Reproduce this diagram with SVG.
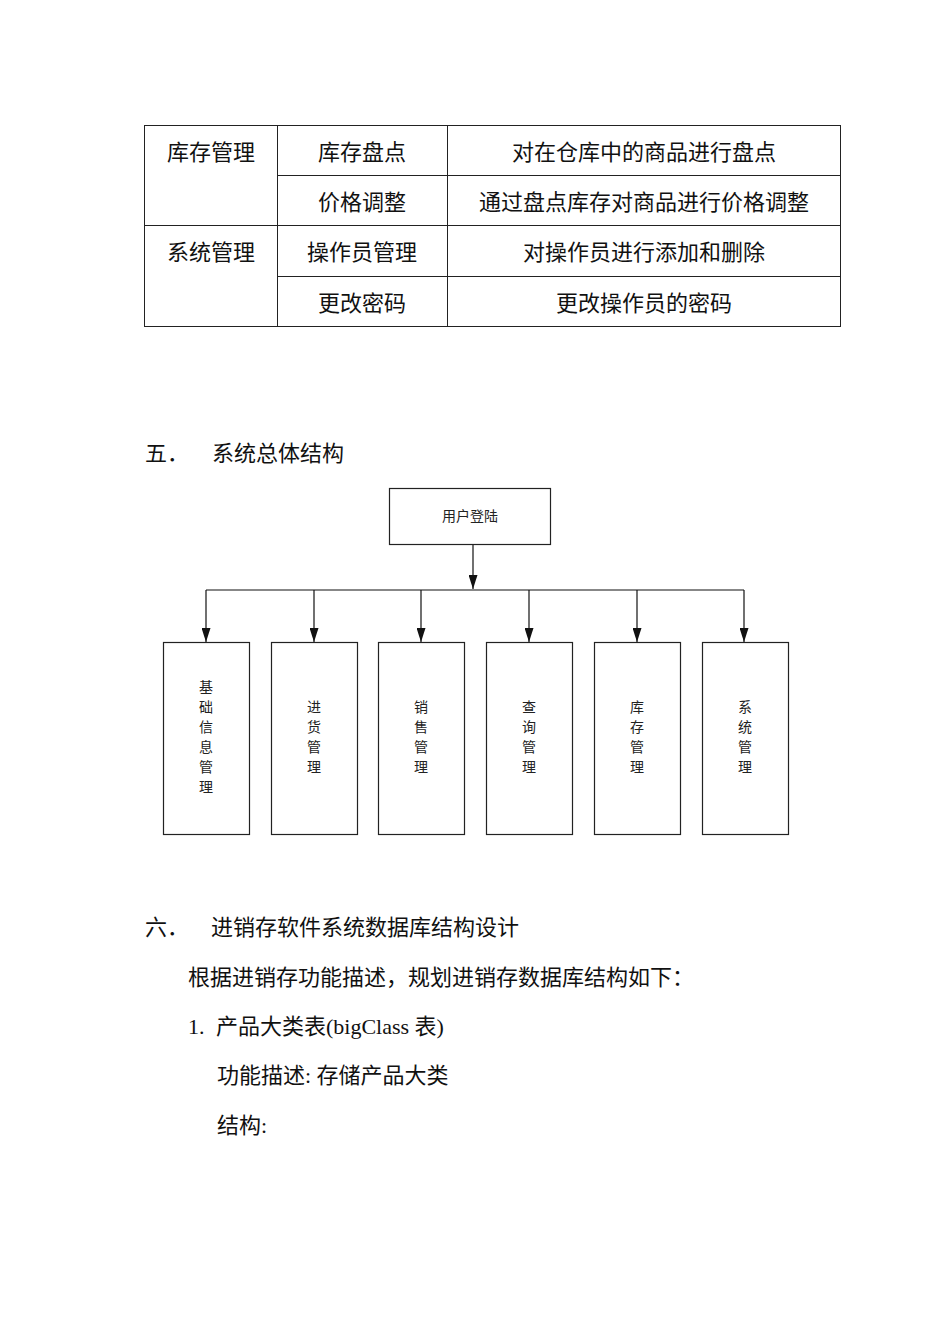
<svg xmlns="http://www.w3.org/2000/svg" width="950" height="1344" viewBox="0 0 950 1344">
<defs>
<style>
.t{font-family:"Liberation Serif","Noto Sans CJK SC",serif;font-size:22px;fill:#111}
.c{text-anchor:middle}
.g{stroke:#222;stroke-width:1;fill:none}
.b{fill:#fff;stroke:#222;stroke-width:1.2}
.s{font-family:"Noto Sans CJK SC",sans-serif;font-size:14px;fill:#222;text-anchor:middle}
.v{font-family:"Noto Sans CJK SC",sans-serif;font-size:14px;fill:#222;text-anchor:middle}
.ln{stroke:#111;stroke-width:1.2;fill:none}
</style>
<marker id="ah" markerWidth="14" markerHeight="9" refX="14" refY="4.5" orient="auto" markerUnits="userSpaceOnUse" viewBox="0 0 14 9">
<path d="M0,0 L14,4.5 L0,9 Z" fill="#111"/>
</marker>
</defs>
<rect width="950" height="1344" fill="#fff"/>

<g id="table">
<rect class="g" x="144.5" y="125.5" width="696" height="201"/>
<line class="g" x1="277.5" y1="125" x2="277.5" y2="326"/>
<line class="g" x1="447.5" y1="125" x2="447.5" y2="326"/>
<line class="g" x1="277" y1="175.5" x2="840" y2="175.5"/>
<line class="g" x1="144" y1="225.5" x2="840" y2="225.5"/>
<line class="g" x1="277" y1="276.5" x2="840" y2="276.5"/>
<text class="t c" x="211" y="160">库存管理</text>
<text class="t c" x="362" y="160">库存盘点</text>
<text class="t c" x="644" y="160">对在仓库中的商品进行盘点</text>
<text class="t c" x="362" y="210">价格调整</text>
<text class="t c" x="644" y="210">通过盘点库存对商品进行价格调整</text>
<text class="t c" x="211" y="260">系统管理</text>
<text class="t c" x="362" y="260">操作员管理</text>
<text class="t c" x="644" y="260">对操作员进行添加和删除</text>
<text class="t c" x="362" y="311">更改密码</text>
<text class="t c" x="644" y="311">更改操作员的密码</text>
</g>

<text class="t" x="145" y="461">五．</text>
<text class="t" x="212" y="461">系统总体结构</text>

<g id="connectors">
<line class="ln" x1="473" y1="544" x2="473" y2="589" marker-end="url(#ah)"/>
<line class="ln" x1="206" y1="590" x2="744" y2="590"/>
<line class="ln" x1="206" y1="590" x2="206" y2="642" marker-end="url(#ah)"/>
<line class="ln" x1="314" y1="590" x2="314" y2="642" marker-end="url(#ah)"/>
<line class="ln" x1="421" y1="590" x2="421" y2="642" marker-end="url(#ah)"/>
<line class="ln" x1="529" y1="590" x2="529" y2="642" marker-end="url(#ah)"/>
<line class="ln" x1="637" y1="590" x2="637" y2="642" marker-end="url(#ah)"/>
<line class="ln" x1="744" y1="590" x2="744" y2="642" marker-end="url(#ah)"/>
</g>

<g id="login">
<rect class="b" x="389.5" y="488.5" width="161" height="56"/>
<text class="s" x="470" y="521">用户登陆</text>
</g>

<g id="n1">
<rect class="b" x="163.5" y="642.5" width="86" height="192"/>
<text class="v" x="206" y="692">基</text><text class="v" x="206" y="712">础</text><text class="v" x="206" y="732">信</text><text class="v" x="206" y="752">息</text><text class="v" x="206" y="772">管</text><text class="v" x="206" y="792">理</text>
</g>
<g id="n2">
<rect class="b" x="271.5" y="642.5" width="86" height="192"/>
<text class="v" x="314" y="712">进</text><text class="v" x="314" y="732">货</text><text class="v" x="314" y="752">管</text><text class="v" x="314" y="772">理</text>
</g>
<g id="n3">
<rect class="b" x="378.5" y="642.5" width="86" height="192"/>
<text class="v" x="421" y="712">销</text><text class="v" x="421" y="732">售</text><text class="v" x="421" y="752">管</text><text class="v" x="421" y="772">理</text>
</g>
<g id="n4">
<rect class="b" x="486.5" y="642.5" width="86" height="192"/>
<text class="v" x="529" y="712">查</text><text class="v" x="529" y="732">询</text><text class="v" x="529" y="752">管</text><text class="v" x="529" y="772">理</text>
</g>
<g id="n5">
<rect class="b" x="594.5" y="642.5" width="86" height="192"/>
<text class="v" x="637" y="712">库</text><text class="v" x="637" y="732">存</text><text class="v" x="637" y="752">管</text><text class="v" x="637" y="772">理</text>
</g>
<g id="n6">
<rect class="b" x="702.5" y="642.5" width="86" height="192"/>
<text class="v" x="745" y="712">系</text><text class="v" x="745" y="732">统</text><text class="v" x="745" y="752">管</text><text class="v" x="745" y="772">理</text>
</g>

<text class="t" x="145" y="935">六．</text>
<text class="t" x="211" y="935">进销存软件系统数据库结构设计</text>
<text class="t" x="188" y="985">根据进销存功能描述，规划进销存数据库结构如下：</text>
<text class="t" x="188" y="1034">1.</text>
<text class="t" x="216" y="1034">产品大类表(bigClass 表)</text>
<text class="t" x="217" y="1083">功能描述: 存储产品大类</text>
<text class="t" x="217" y="1133">结构:</text>
</svg>
